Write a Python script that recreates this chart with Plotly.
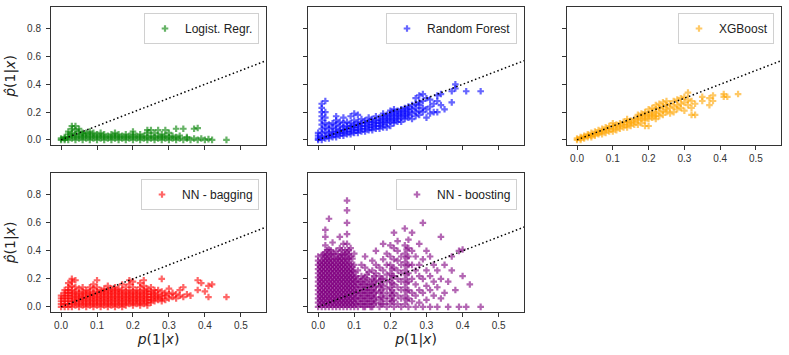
import plotly.graph_objects as go

# each dict: x column -> predicted values seen at that x
logreg = {
    0.00: [0.0, 0.01], 0.01: [0.0, 0.02, 0.01], 0.02: [0.0, 0.02, 0.04, 0.06],
    0.03: [0.01, 0.03, 0.05, 0.08, 0.1], 0.04: [0.0, 0.02, 0.04, 0.07, 0.1],
    0.05: [0.01, 0.03, 0.06, 0.08], 0.06: [0.0, 0.02, 0.04, 0.05],
    0.07: [0.01, 0.03, 0.05], 0.08: [0.0, 0.02, 0.04, 0.06], 0.09: [0.01, 0.03, 0.05],
    0.10: [0.0, 0.02, 0.04], 0.11: [0.01, 0.03, 0.05], 0.12: [0.0, 0.02, 0.04],
    0.13: [0.01, 0.03], 0.14: [0.0, 0.02, 0.04], 0.15: [0.01, 0.03, 0.05],
    0.16: [0.0, 0.02, 0.04], 0.17: [0.01, 0.03], 0.18: [0.0, 0.02, 0.04],
    0.19: [0.01, 0.03], 0.20: [0.0, 0.02, 0.04, 0.06], 0.21: [0.01, 0.03],
    0.22: [0.0, 0.02, 0.04], 0.23: [0.01, 0.03], 0.24: [0.0, 0.02, 0.05, 0.07],
    0.25: [0.01, 0.03, 0.07], 0.26: [0.0, 0.02, 0.05], 0.27: [0.01, 0.03, 0.07],
    0.28: [0.0, 0.02, 0.04], 0.29: [0.01, 0.03, 0.07], 0.30: [0.0, 0.02, 0.05],
    0.31: [0.01, 0.03], 0.32: [0.0, 0.02, 0.08], 0.33: [0.01, 0.03], 0.34: [0.0, 0.08],
    0.35: [0.01, 0.02], 0.36: [0.0], 0.37: [0.01, 0.08], 0.38: [0.0, 0.085],
    0.39: [0.01], 0.40: [0.0], 0.41: [0.005], 0.42: [0.0], 0.46: [0.0],
}

forest = {
    0.00: [0.0, 0.01, 0.03, 0.05],
    0.01: [0.0, 0.02, 0.05, 0.08, 0.11, 0.14, 0.17, 0.2, 0.23, 0.26],
    0.02: [0.01, 0.03, 0.06, 0.09, 0.12, 0.16, 0.2, 0.28],
    0.03: [0.01, 0.03, 0.05, 0.08, 0.11], 0.04: [0.02, 0.04, 0.06, 0.09, 0.12],
    0.05: [0.02, 0.04, 0.06, 0.08, 0.11, 0.14, 0.17],
    0.06: [0.03, 0.05, 0.07, 0.1, 0.13], 0.07: [0.03, 0.05, 0.07, 0.09, 0.12, 0.16],
    0.08: [0.04, 0.06, 0.08, 0.1, 0.13], 0.09: [0.04, 0.06, 0.08, 0.1, 0.12, 0.17],
    0.10: [0.05, 0.07, 0.09, 0.11, 0.14, 0.19], 0.11: [0.05, 0.07, 0.09, 0.11, 0.13, 0.18],
    0.12: [0.06, 0.08, 0.1, 0.12, 0.15], 0.13: [0.06, 0.08, 0.1, 0.12, 0.14],
    0.14: [0.07, 0.09, 0.11, 0.13, 0.16], 0.15: [0.07, 0.09, 0.11, 0.13, 0.15],
    0.16: [0.08, 0.1, 0.12, 0.14, 0.17], 0.17: [0.08, 0.1, 0.12, 0.14, 0.16],
    0.18: [0.09, 0.11, 0.13, 0.15, 0.17, 0.19], 0.19: [0.09, 0.12, 0.14, 0.16, 0.18],
    0.20: [0.1, 0.13, 0.15, 0.17, 0.19, 0.21], 0.21: [0.12, 0.14, 0.16, 0.18, 0.2, 0.22],
    0.22: [0.13, 0.15, 0.17, 0.19, 0.21], 0.23: [0.13, 0.16, 0.18, 0.2, 0.22],
    0.24: [0.15, 0.17, 0.19, 0.21, 0.23], 0.25: [0.16, 0.18, 0.2, 0.22, 0.24],
    0.26: [0.15, 0.19, 0.22, 0.25], 0.27: [0.17, 0.2, 0.23, 0.26, 0.3],
    0.28: [0.18, 0.21, 0.25, 0.27, 0.32], 0.29: [0.2, 0.23, 0.28, 0.33],
    0.30: [0.16, 0.22, 0.3], 0.31: [0.19, 0.24, 0.29], 0.32: [0.2, 0.26],
    0.33: [0.2, 0.28, 0.32], 0.34: [0.25, 0.33], 0.35: [0.22],
    0.37: [0.27, 0.35], 0.38: [0.4, 0.37], 0.41: [0.35], 0.45: [0.35],
}

xgb = {
    0.00: [0.0, 0.01], 0.01: [0.0, 0.01, 0.02], 0.02: [0.01, 0.02, 0.03],
    0.03: [0.02, 0.03, 0.04], 0.04: [0.02, 0.03, 0.05], 0.05: [0.03, 0.04, 0.06],
    0.06: [0.04, 0.05, 0.07], 0.07: [0.04, 0.06, 0.08], 0.08: [0.05, 0.07, 0.09],
    0.09: [0.06, 0.08, 0.1], 0.10: [0.06, 0.08, 0.1, 0.12], 0.11: [0.07, 0.09, 0.11],
    0.12: [0.08, 0.1, 0.12], 0.13: [0.09, 0.11, 0.13], 0.14: [0.09, 0.11, 0.13, 0.15],
    0.15: [0.1, 0.12, 0.14], 0.16: [0.11, 0.13, 0.15], 0.17: [0.11, 0.14, 0.16, 0.18],
    0.18: [0.12, 0.15, 0.17, 0.19], 0.19: [0.1, 0.14, 0.16, 0.18, 0.2],
    0.20: [0.1, 0.15, 0.17, 0.19, 0.22], 0.21: [0.16, 0.18, 0.2, 0.23],
    0.22: [0.15, 0.17, 0.19, 0.22, 0.25], 0.23: [0.17, 0.2, 0.23, 0.26],
    0.24: [0.18, 0.21, 0.24, 0.27], 0.25: [0.2, 0.22, 0.25, 0.28],
    0.26: [0.19, 0.23, 0.26], 0.27: [0.2, 0.24, 0.28], 0.28: [0.22, 0.25, 0.29],
    0.29: [0.23, 0.26, 0.3], 0.30: [0.21, 0.27, 0.31], 0.31: [0.25, 0.29, 0.34],
    0.32: [0.18, 0.23, 0.28], 0.33: [0.18, 0.26], 0.35: [0.31, 0.28],
    0.37: [0.25, 0.3], 0.38: [0.28, 0.32], 0.41: [0.33, 0.31], 0.42: [0.31], 0.45: [0.33],
}

nn_bag = {
    0.00: [0.0, 0.02, 0.04, 0.06, 0.08],
    0.01: [0.0, 0.02, 0.04, 0.06, 0.08, 0.1, 0.12],
    0.02: [0.0, 0.02, 0.04, 0.06, 0.08, 0.1, 0.12, 0.14, 0.17],
    0.03: [0.0, 0.02, 0.04, 0.06, 0.08, 0.1, 0.12, 0.15, 0.18, 0.2],
    0.04: [0.01, 0.03, 0.05, 0.07, 0.09, 0.11, 0.14, 0.19],
    0.05: [0.0, 0.02, 0.04, 0.06, 0.08, 0.1, 0.13],
    0.06: [0.01, 0.03, 0.05, 0.07, 0.09, 0.11, 0.14],
    0.07: [0.0, 0.02, 0.04, 0.06, 0.08, 0.1, 0.12],
    0.08: [0.01, 0.03, 0.05, 0.07, 0.09, 0.11, 0.14],
    0.09: [0.0, 0.02, 0.04, 0.06, 0.08, 0.1, 0.13, 0.16],
    0.10: [0.01, 0.03, 0.05, 0.07, 0.09, 0.11, 0.14, 0.19],
    0.11: [0.0, 0.02, 0.04, 0.06, 0.08, 0.1, 0.12],
    0.12: [0.01, 0.03, 0.05, 0.07, 0.09, 0.11, 0.13],
    0.13: [0.0, 0.02, 0.04, 0.06, 0.08, 0.1, 0.12, 0.15],
    0.14: [0.01, 0.03, 0.05, 0.07, 0.09, 0.11, 0.13],
    0.15: [0.0, 0.02, 0.04, 0.06, 0.08, 0.1, 0.12, 0.14],
    0.16: [0.01, 0.03, 0.05, 0.07, 0.09, 0.11, 0.13],
    0.17: [0.0, 0.02, 0.04, 0.06, 0.08, 0.1, 0.12, 0.16],
    0.18: [0.01, 0.03, 0.05, 0.07, 0.09, 0.11, 0.14],
    0.19: [0.02, 0.04, 0.06, 0.08, 0.1, 0.12, 0.16, 0.19],
    0.20: [0.01, 0.03, 0.05, 0.07, 0.09, 0.11, 0.14, 0.18],
    0.21: [0.02, 0.04, 0.06, 0.08, 0.1, 0.12],
    0.22: [0.01, 0.03, 0.05, 0.07, 0.09, 0.11, 0.14, 0.17],
    0.23: [0.02, 0.04, 0.06, 0.08, 0.1, 0.12, 0.15, 0.19],
    0.24: [0.01, 0.03, 0.05, 0.07, 0.09, 0.11, 0.13],
    0.25: [0.03, 0.05, 0.07, 0.09, 0.11, 0.14],
    0.26: [0.04, 0.06, 0.08, 0.1, 0.12], 0.27: [0.05, 0.07, 0.09, 0.12],
    0.28: [0.04, 0.06, 0.08, 0.11, 0.2], 0.29: [0.05, 0.08, 0.1],
    0.30: [0.06, 0.09, 0.13], 0.31: [0.07, 0.1], 0.32: [0.06, 0.09],
    0.33: [0.08, 0.12], 0.34: [0.07, 0.14], 0.35: [0.09], 0.36: [0.08],
    0.38: [0.12, 0.19], 0.39: [0.17], 0.40: [0.11], 0.41: [0.07, 0.15],
    0.42: [0.16], 0.46: [0.07],
}

nn_boost = {
    0.00: [0.0, 0.03, 0.06, 0.09, 0.12, 0.15, 0.18, 0.21, 0.24, 0.27, 0.3, 0.33, 0.36],
    0.005: [0.015, 0.045, 0.075, 0.105, 0.135, 0.165, 0.195, 0.225, 0.255, 0.285, 0.315],
    0.01: [0.0, 0.03, 0.06, 0.09, 0.12, 0.15, 0.18, 0.21, 0.24, 0.27, 0.3, 0.33, 0.37],
    0.015: [0.015, 0.045, 0.075, 0.105, 0.135, 0.165, 0.195, 0.225, 0.255, 0.285, 0.315,
            0.345, 0.375],
    0.02: [0.0, 0.03, 0.06, 0.09, 0.12, 0.15, 0.18, 0.21, 0.24, 0.27, 0.3, 0.33, 0.36,
           0.39, 0.44, 0.5, 0.55],
    0.025: [0.015, 0.045, 0.075, 0.105, 0.135, 0.165, 0.195, 0.225, 0.255, 0.285, 0.315,
            0.345, 0.375, 0.405],
    0.03: [0.0, 0.03, 0.06, 0.09, 0.12, 0.15, 0.18, 0.21, 0.24, 0.27, 0.3, 0.33, 0.36,
           0.41, 0.63],
    0.035: [0.015, 0.045, 0.075, 0.105, 0.135, 0.165, 0.195, 0.225, 0.255, 0.285, 0.315,
            0.345, 0.375, 0.405],
    0.04: [0.0, 0.03, 0.06, 0.09, 0.12, 0.15, 0.18, 0.21, 0.24, 0.27, 0.3, 0.33, 0.38, 0.46],
    0.045: [0.015, 0.045, 0.075, 0.105, 0.135, 0.165, 0.195, 0.225, 0.255, 0.285, 0.315,
            0.345, 0.375],
    0.05: [0.0, 0.03, 0.06, 0.09, 0.12, 0.15, 0.18, 0.21, 0.24, 0.27, 0.3, 0.34, 0.4],
    0.055: [0.015, 0.045, 0.075, 0.105, 0.135, 0.165, 0.195, 0.225, 0.255, 0.285, 0.315,
            0.345, 0.375],
    0.06: [0.0, 0.03, 0.06, 0.09, 0.12, 0.15, 0.18, 0.21, 0.24, 0.27, 0.3, 0.33, 0.36,
           0.42, 0.5],
    0.065: [0.015, 0.045, 0.075, 0.105, 0.135, 0.165, 0.195, 0.225, 0.255, 0.285, 0.315,
            0.345, 0.375, 0.405],
    0.07: [0.0, 0.03, 0.06, 0.09, 0.12, 0.15, 0.18, 0.21, 0.24, 0.27, 0.3, 0.33, 0.37, 0.45],
    0.075: [0.015, 0.045, 0.075, 0.105, 0.135, 0.165, 0.195, 0.225, 0.255, 0.285, 0.315,
            0.345, 0.375, 0.405],
    0.08: [0.0, 0.03, 0.06, 0.09, 0.12, 0.15, 0.18, 0.21, 0.24, 0.27, 0.3, 0.34, 0.39,
           0.45, 0.52, 0.6, 0.69, 0.76],
    0.085: [0.015, 0.045, 0.075, 0.105, 0.135, 0.165, 0.195, 0.225, 0.255, 0.285, 0.315,
            0.345, 0.375, 0.405],
    0.09: [0.0, 0.03, 0.06, 0.09, 0.12, 0.15, 0.18, 0.21, 0.24, 0.27, 0.31, 0.36, 0.42],
    0.095: [0.015, 0.045, 0.075, 0.105, 0.135, 0.165, 0.195, 0.225, 0.255, 0.285, 0.345],
    0.10: [0.0, 0.03, 0.06, 0.09, 0.12, 0.15, 0.18, 0.21, 0.25, 0.3, 0.38],
    0.105: [0.02, 0.06, 0.1, 0.14, 0.18, 0.22],
    0.11: [0.0, 0.04, 0.08, 0.12, 0.16, 0.2, 0.26],
    0.115: [0.02, 0.06, 0.1, 0.14, 0.18],
    0.12: [0.02, 0.06, 0.1, 0.14, 0.18, 0.22, 0.3],
    0.125: [0.0, 0.04, 0.08, 0.12, 0.16, 0.2],
    0.13: [0.0, 0.04, 0.08, 0.12, 0.16, 0.21, 0.28, 0.36],
    0.135: [0.02, 0.06, 0.1, 0.14, 0.18, 0.23],
    0.14: [0.02, 0.06, 0.1, 0.14, 0.19, 0.25],
    0.145: [0.0, 0.04, 0.08, 0.12, 0.16],
    0.15: [0.0, 0.04, 0.08, 0.12, 0.16, 0.2, 0.26, 0.33],
    0.155: [0.02, 0.06, 0.1, 0.14, 0.18, 0.22],
    0.16: [0.03, 0.07, 0.11, 0.15, 0.19, 0.24, 0.3, 0.4],
    0.17: [0.0, 0.05, 0.1, 0.14, 0.18, 0.22, 0.28],
    0.175: [0.02, 0.07, 0.12, 0.16, 0.2],
    0.18: [0.02, 0.06, 0.1, 0.15, 0.2, 0.26, 0.34, 0.45],
    0.19: [0.0, 0.04, 0.08, 0.13, 0.18, 0.23, 0.3, 0.38],
    0.20: [0.02, 0.06, 0.1, 0.14, 0.19, 0.24, 0.3, 0.36, 0.44],
    0.205: [0.04, 0.08, 0.12, 0.17, 0.22, 0.27],
    0.21: [0.0, 0.05, 0.1, 0.16, 0.22, 0.28, 0.34, 0.42, 0.53],
    0.22: [0.02, 0.08, 0.14, 0.2, 0.26, 0.33, 0.4, 0.47],
    0.23: [0.0, 0.06, 0.12, 0.18, 0.24, 0.3, 0.36],
    0.24: [0.02, 0.08, 0.14, 0.2, 0.26, 0.32, 0.38, 0.44, 0.56],
    0.245: [0.05, 0.11, 0.17, 0.23, 0.29, 0.35, 0.41],
    0.25: [0.0, 0.06, 0.12, 0.18, 0.24, 0.3, 0.36, 0.42, 0.48],
    0.26: [0.04, 0.1, 0.2, 0.3, 0.4, 0.53], 0.27: [0.0, 0.08, 0.16, 0.26, 0.36],
    0.28: [0.03, 0.12, 0.22, 0.3, 0.45], 0.29: [0.0, 0.1, 0.2, 0.34, 0.6],
    0.30: [0.05, 0.15, 0.26, 0.4], 0.31: [0.0, 0.12, 0.22, 0.36],
    0.32: [0.08, 0.18, 0.3], 0.33: [0.0, 0.14, 0.26], 0.34: [0.06, 0.2, 0.5],
    0.35: [0.1, 0.3], 0.36: [0.0, 0.18], 0.37: [0.26, 0.36], 0.38: [0.12],
    0.39: [0.0, 0.4], 0.40: [0.41, 0.22], 0.41: [0.0], 0.42: [0.16], 0.45: [0.0],
}

diag = [0.0, 0.6]
xticks = [0.0, 0.1, 0.2, 0.3, 0.4, 0.5]
yticks = [0.0, 0.2, 0.4, 0.6, 0.8]

models = [
    ("Logist. Regr.", logreg, "green"),
    ("Random Forest", forest, "blue"),
    ("XGBoost", xgb, "orange"),
    ("NN - bagging", nn_bag, "red"),
    ("NN - boosting", nn_boost, "purple"),
]

W, H = 789, 355
cols = [(51, 266), (308, 524), (567, 781)]
rows = [(7, 145), (173, 312)]

tick_font = dict(family="Liberation Sans, Arial, sans-serif", size=10, color="#333333")
title_font = dict(family="DejaVu Sans, sans-serif", size=14, color="#222222")


def unpack(columns):
    xs, ys = [], []
    for x, vals in columns.items():
        for y in vals:
            xs.append(x)
            ys.append(y)
    return xs, ys


fig = go.Figure()
layout = {}

for i, (name, columns, color) in enumerate(models):
    r, c = divmod(i, 3)
    k = i + 1
    sfx = "" if k == 1 else str(k)
    xs, ys = unpack(columns)
    lg = "legend" + sfx

    fig.add_trace(go.Scatter(
        x=xs, y=ys, mode="markers", name=name, legend=lg,
        xaxis="x" + sfx, yaxis="y" + sfx,
        marker=dict(symbol="cross", size=5.5, color=color, opacity=0.6,
                    line=dict(width=0)),
    ))
    fig.add_trace(go.Scatter(
        x=diag, y=diag, mode="lines", showlegend=False,
        xaxis="x" + sfx, yaxis="y" + sfx,
        line=dict(color="black", width=1.5, dash="1.5px,2.5px"),
    ))

    x0, x1 = cols[c]
    top, bot = rows[r]
    common = dict(showline=True, mirror=True, linecolor="#333333", linewidth=1,
                  ticks="outside", ticklen=4, tickwidth=1, tickcolor="#333333",
                  showgrid=False, zeroline=False, tickfont=tick_font)
    xa = dict(common, domain=[x0 / W, x1 / W], range=[-0.028, 0.57],
              tickvals=xticks, ticktext=[f"{v:.1f}" for v in xticks],
              anchor="y" + sfx, showticklabels=(r == 1 or c == 2))
    ya = dict(common, domain=[1 - bot / H, 1 - top / H], range=[-0.037, 0.957],
              tickvals=yticks, ticktext=[f"{v:.1f}" for v in yticks],
              anchor="x" + sfx, showticklabels=(c == 0), ticklabelstandoff=3)
    if c == 0:
        ya["title"] = dict(text="<i>p̂</i>(1|<i>x</i>)", font=title_font, standoff=8)
    if r == 1:
        xa["title"] = dict(text="<i>p</i>(1|<i>x</i>)", font=title_font, standoff=2)
    layout["xaxis" + sfx] = xa
    layout["yaxis" + sfx] = ya
    layout[lg] = dict(x=(x1 - 7) / W, y=1 - (top + 6) / H, xanchor="right", yanchor="top",
                      bgcolor="white", bordercolor="#d0d0d0", borderwidth=1,
                      font=dict(family="Liberation Sans, Arial, sans-serif", size=12,
                                color="#222222"))

fig.update_layout(
    width=W, height=H,
    margin=dict(l=0, r=0, t=0, b=0),
    paper_bgcolor="white", plot_bgcolor="white",
    **layout,
)

# drop the browser's default 8px body margin so the figure sits at the page origin
fig.write_html("out.html", config={"displayModeBar": False},
               post_script="document.body.style.margin='0';")
